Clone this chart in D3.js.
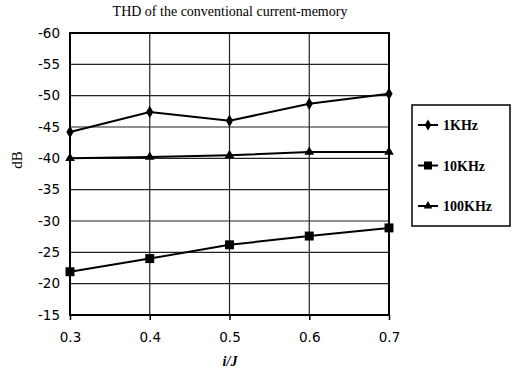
<!DOCTYPE html>
<html>
<head>
<meta charset="utf-8">
<script src="https://cdn.jsdelivr.net/npm/d3@7"></script>
<style>
  body { margin: 0; background: #fff; }
  svg { display: block; }
</style>
</head>
<body>
<div id="chart"></div>
<script>
// values
const xValues = [0.3, 0.4, 0.5, 0.6, 0.7];
const series1k = [-44.2, -47.4, -46.0, -48.7, -50.3];
const series10k = [-21.9, -24.0, -26.2, -27.6, -28.9];
const series100k = [-40.0, -40.2, -40.5, -41.0, -41.0];
const seriesNames = ["1KHz", "10KHz", "100KHz"];
const yTicks = [-60, -55, -50, -45, -40, -35, -30, -25, -20, -15];

const W = 515, H = 371;
const margin = { top: 33, left: 70, right: 126, bottom: 56 };
const width = W - margin.left - margin.right,
      height = H - margin.top - margin.bottom;

const svg = d3.select("#chart").append("svg")
    .attr("width", W)
    .attr("height", H);

const g = svg.append("g")
    .attr("transform", "translate(" + margin.left + "," + margin.top + ")");

const x = d3.scaleLinear().domain([0.3, 0.7]).range([0, width]);
// dB axis runs upside down: -60 at the top
const y = d3.scaleLinear().domain([-60, -15]).range([0, height]);

// grid
g.append("g")
    .selectAll("line.h")
    .data(yTicks)
    .enter().append("line")
    .attr("x1", 0).attr("x2", width)
    .attr("y1", d => y(d)).attr("y2", d => y(d))
    .style("stroke", "#222").style("stroke-width", 1.2);

g.append("g")
    .selectAll("line.v")
    .data(xValues)
    .enter().append("line")
    .attr("y1", 0).attr("y2", height)
    .attr("x1", d => x(d)).attr("x2", d => x(d))
    .style("stroke", "#222").style("stroke-width", 1.2);

// frame
g.append("rect")
    .attr("width", width).attr("height", height)
    .style("fill", "none").style("stroke", "#000").style("stroke-width", 2);

// axes
const xAxis = g.append("g")
    .attr("transform", "translate(0," + height + ")")
    .call(d3.axisBottom(x).tickValues(xValues).tickFormat(d3.format(".1f")).tickSize(5).tickPadding(12));
const yAxis = g.append("g")
    .call(d3.axisLeft(y).tickValues(yTicks).tickFormat(d => String(d)).tickSize(0).tickPadding(10));

[xAxis, yAxis].forEach(a => {
    a.select(".domain").remove();
    a.selectAll("line").style("stroke", "#000").style("stroke-width", 1.5);
    a.selectAll("text")
        .style("font-family", "'DejaVu Sans', sans-serif")
        .style("font-size", "13.5px")
        .style("fill", "#000");
});

const line = d3.line()
    .x((d, i) => x(xValues[i]))
    .y(d => y(d));

const allSeries = [
    { name: seriesNames[0], values: series1k, sym: d3.symbolDiamond, size: 45 },
    { name: seriesNames[1], values: series10k, sym: d3.symbolSquare, size: 80 },
    { name: seriesNames[2], values: series100k, sym: d3.symbolTriangle, size: 40 }
];

allSeries.forEach(s => {
    g.append("path")
        .datum(s.values)
        .attr("d", line)
        .style("fill", "none")
        .style("stroke", "#000")
        .style("stroke-width", 2);

    g.selectAll(null)
        .data(s.values)
        .enter().append("path")
        .attr("d", d3.symbol().type(s.sym).size(s.size))
        .attr("transform", (d, i) => "translate(" + x(xValues[i]) + "," + y(d) + ")")
        .style("fill", "#000");
});

// title
svg.append("text")
    .attr("x", 230).attr("y", 16)
    .attr("text-anchor", "middle")
    .style("font-family", "'Liberation Serif', serif")
    .style("font-size", "14px")
    .text("THD of the conventional current-memory");

// axis titles
svg.append("text")
    .attr("transform", "translate(22,160) rotate(-90)")
    .attr("text-anchor", "middle")
    .style("font-family", "'Liberation Serif', serif")
    .style("font-size", "15px")
    .text("dB");

svg.append("text")
    .attr("x", 230).attr("y", 366)
    .attr("text-anchor", "middle")
    .style("font-family", "'Liberation Serif', serif")
    .style("font-style", "italic")
    .style("font-weight", "bold")
    .style("font-size", "14px")
    .text("i/J");

// legend
const legend = svg.append("g").attr("transform", "translate(412,105)");
legend.append("rect")
    .attr("width", 98).attr("height", 121)
    .style("fill", "#fff").style("stroke", "#000").style("stroke-width", 1.5);

allSeries.forEach((s, i) => {
    const ly = 20 + i * 40.5;
    legend.append("line")
        .attr("x1", 6).attr("x2", 26).attr("y1", ly).attr("y2", ly)
        .style("stroke", "#000").style("stroke-width", 2);
    legend.append("path")
        .attr("d", d3.symbol().type(s.sym).size(s.size * 0.8))
        .attr("transform", "translate(16," + ly + ")")
        .style("fill", "#000");
    legend.append("text")
        .attr("x", 31).attr("y", ly + 5)
        .style("font-family", "'Liberation Serif', serif")
        .style("font-weight", "bold")
        .style("font-size", "14px")
        .text(s.name);
});
</script>
</body>
</html>
